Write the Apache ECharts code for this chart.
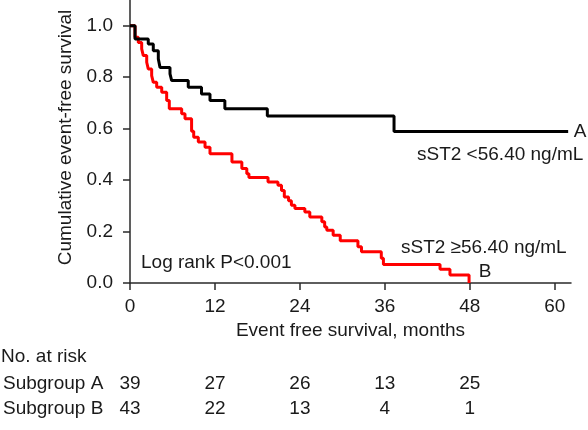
<!DOCTYPE html>
<html>
<head>
<meta charset="utf-8">
<script src="https://cdn.jsdelivr.net/npm/echarts@6/dist/echarts.min.js"></script>
<style>html,body{margin:0;padding:0;background:#fff}#c{width:588px;height:430px}</style>
</head>
<body>
<div id="c"></div>
<script>
// ---- data ----
const xTicks = [0, 12, 24, 36, 48, 60];
const yTicks = [0, 0.2, 0.4, 0.6, 0.8, 1.0];
// Subgroup A (sST2 <56.40 ng/mL)
const timeA = [0, 0.71, 2.58, 3.29, 4.0, 4.24, 5.65, 5.89, 8.23, 10.1, 11.3, 13.4, 19.4, 37.3, 61.9];
const survA = [1.0, 0.948, 0.929, 0.903, 0.871, 0.838, 0.813, 0.787, 0.761, 0.735, 0.709, 0.677, 0.649, 0.589, 0.589];
// Subgroup B (sST2 >=56.40 ng/mL)
const timeB = [0, 0.71, 1.17, 1.65, 1.88, 2.36, 2.58, 3.06, 3.29, 3.77, 4.48, 5.18, 5.55, 7.3, 7.77, 8.7, 9.0, 9.65, 10.6, 11.3, 14.4, 15.8, 16.5, 16.8, 19.5, 20.9, 21.4, 21.8, 22.4, 22.8, 23.3, 24.7, 25.4, 27.1, 27.5, 27.8, 28.7, 29.7, 32.2, 32.7, 35.5, 35.8, 43.8, 45.2, 47.9];
const survB = [1.0, 0.955, 0.935, 0.910, 0.884, 0.858, 0.832, 0.806, 0.780, 0.761, 0.741, 0.709, 0.677, 0.658, 0.638, 0.59, 0.567, 0.548, 0.528, 0.502, 0.470, 0.445, 0.425, 0.41, 0.393, 0.38, 0.36, 0.334, 0.32, 0.302, 0.29, 0.276, 0.257, 0.238, 0.218, 0.205, 0.186, 0.164, 0.141, 0.121, 0.096, 0.072, 0.053, 0.031, 0.0];
// Numbers at risk
const riskTimes = [0, 12, 24, 36, 48];
const riskGroups = ['Subgroup A', 'Subgroup B'];
const riskA = [39, 27, 26, 13, 25];
const riskB = [43, 22, 13, 4, 1];

const FONT = '"Liberation Sans", Arial, Helvetica, sans-serif';
const TXT = '#1a1a1a';
const AX = '#2a2a2a';

const pairs = (t, s) => t.map((v, i) => [v, s[i]]);
const riskData = [];
riskTimes.forEach((t, i) => { riskData.push([t, 0, riskA[i]]); riskData.push([t, 1, riskB[i]]); });

const chart = echarts.init(document.getElementById('c'), null, {renderer: 'canvas'});
chart.setOption({
  animation: false,
  backgroundColor: '#fff',
  textStyle: {fontFamily: FONT},
  grid: [
    {left: 130, right: 17, top: 0, bottom: 147, containLabel: false, outerBoundsMode: 'none'},
    {left: 130, right: 17, top: 371, height: 50, containLabel: false, outerBoundsMode: 'none'}
  ],
  xAxis: [{
    type: 'value', gridIndex: 0, min: 0, max: 62.3,
    axisLine: {show: true, onZero: false, lineStyle: {color: AX, width: 1.5}},
    axisTick: {show: true, length: 7, customValues: xTicks, lineStyle: {color: AX, width: 1.5}},
    axisLabel: {customValues: xTicks, margin: 14, fontSize: 19, color: TXT, fontFamily: FONT},
    splitLine: {show: false},
    name: 'Event free survival, months', nameLocation: 'middle', nameGap: 37,
    nameTextStyle: {fontSize: 19, color: TXT, fontFamily: FONT}
  }, {
    type: 'value', gridIndex: 1, min: 0, max: 62.3, show: false
  }],
  yAxis: [{
    type: 'value', gridIndex: 0, min: 0, max: 1.1,
    axisLine: {show: true, onZero: false, lineStyle: {color: AX, width: 1.5}},
    axisTick: {show: true, length: 7, customValues: yTicks, lineStyle: {color: AX, width: 1.5}},
    axisLabel: {customValues: yTicks, margin: 17, fontSize: 19, color: TXT, fontFamily: FONT,
      formatter: v => Number(v).toFixed(1)},
    splitLine: {show: false},
    name: 'Cumulative event-free survival', nameLocation: 'middle', nameGap: 50, nameRotate: 90,
    nameTextStyle: {fontSize: 19, color: TXT, fontFamily: FONT, padding: [0, 0, 0, 8]}
  }, {
    type: 'category', gridIndex: 1, data: riskGroups, inverse: true,
    axisLine: {show: false}, axisTick: {show: false}, splitLine: {show: false},
    axisLabel: {align: 'left', margin: 127, fontSize: 19, color: TXT, fontFamily: FONT}
  }],
  series: [{
    type: 'line', name: 'B', xAxisIndex: 0, yAxisIndex: 0, step: 'end', symbol: 'none',
    data: pairs(timeB, survB), lineStyle: {color: '#ff0000', width: 3}, z: 2
  }, {
    type: 'line', name: 'A', xAxisIndex: 0, yAxisIndex: 0, step: 'end', symbol: 'none',
    data: pairs(timeA, survA), lineStyle: {color: '#000000', width: 3}, z: 3
  }, {
    type: 'scatter', xAxisIndex: 1, yAxisIndex: 1, symbolSize: 0, silent: true,
    itemStyle: {color: TXT, opacity: 0},
    data: riskData,
    label: {show: true, position: 'inside', formatter: p => String(p.value[2]),
      fontSize: 19, color: TXT, fontFamily: FONT, opacity: 1, textBorderWidth: 0, textBorderColor: 'transparent'}
  }],
  graphic: [
    {type: 'text', x: 1, y: 357, style: {text: 'No. at risk', font: '19px ' + FONT, fill: TXT, textAlign: 'left', textVerticalAlign: 'middle'}},
    {type: 'text', x: 141, y: 263, style: {text: 'Log rank P<0.001', font: '19px ' + FONT, fill: TXT, textAlign: 'left', textVerticalAlign: 'middle'}},
    {type: 'text', x: 580, y: 132, style: {text: 'A', font: '19px ' + FONT, fill: TXT, textAlign: 'center', textVerticalAlign: 'middle'}},
    {type: 'text', x: 417, y: 155, style: {text: 'sST2 <56.40 ng/mL', font: '19px ' + FONT, fill: TXT, textAlign: 'left', textVerticalAlign: 'middle'}},
    {type: 'text', x: 401, y: 248, style: {text: 'sST2 \u226556.40 ng/mL', font: '19px ' + FONT, fill: TXT, textAlign: 'left', textVerticalAlign: 'middle'}},
    {type: 'text', x: 485, y: 272, style: {text: 'B', font: '19px ' + FONT, fill: TXT, textAlign: 'center', textVerticalAlign: 'middle'}}
  ]
});
</script>
</body>
</html>
